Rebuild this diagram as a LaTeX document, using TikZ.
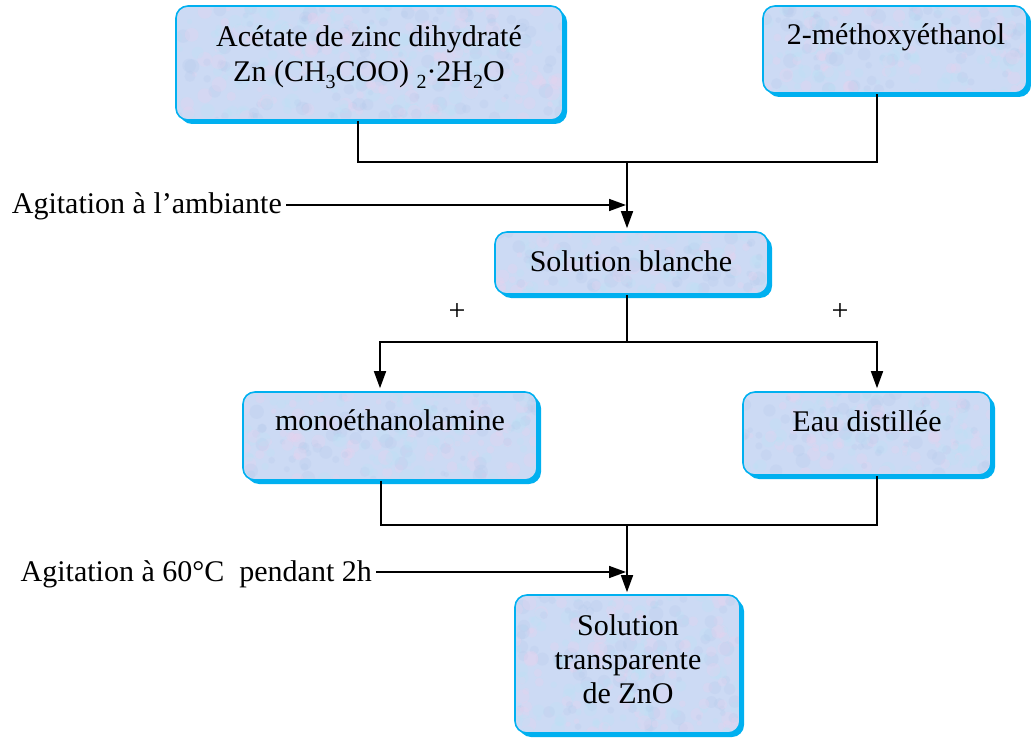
\documentclass[tikz,border=0pt]{standalone}
\usepackage{fontspec}
\setmainfont{Liberation Serif}
\usetikzlibrary{arrows.meta,shadows}

\definecolor{boxblue}{RGB}{0,176,240}
\definecolor{boxfill}{RGB}{204,218,244}
\definecolor{mottlepink}{RGB}{232,210,238}
\definecolor{mottlecyan}{RGB}{188,226,246}
\definecolor{mottleblue}{RGB}{182,202,236}

% chemical subscript in the running text font
\newcommand\chsub[1]{\raisebox{-0.22em}{\fontsize{20}{20}\selectfont #1}}

% fine marbled grain inside a stage box given by its corners
\newcommand\mottle[4]{%
  \begin{scope}
    \clip[rounded corners=11pt] (#1+1.5,#2+1.5) rectangle (#3-1.5,#4-1.5);
    \pgfmathtruncatemacro\nblobs{((#3-#1)/11)*((#4-#2)/10)}
    \foreach \k in {1,...,\nblobs} {
      \pgfmathsetmacro\px{#1+rnd*(#3-#1)}
      \pgfmathsetmacro\py{#2+rnd*(#4-#2)}
      \pgfmathsetmacro\pr{2.5+rnd*5}
      \pgfmathtruncatemacro\pc{mod(\k,3)}
      \ifcase\pc
        \fill[mottlepink, opacity=0.3] (\px,\py) circle (\pr);
      \or
        \fill[mottlecyan, opacity=0.3] (\px,\py) circle (\pr);
      \else
        \fill[mottleblue, opacity=0.25] (\px,\py) circle (\pr);
      \fi
    }
  \end{scope}}

\tikzset{
  stage/.style={draw=boxblue, line width=1.6pt, fill=boxfill,
    rounded corners=12pt, inner sep=0pt,
    drop shadow={shadow xshift=4pt, shadow yshift=-4pt, fill=boxblue, opacity=1}},
  label/.style={font=\fontsize{30}{35}\selectfont, inner sep=0pt, anchor=base},
  link/.style={line width=1.6pt, black},
  flow/.style={link, -{Triangle[length=17pt,width=12pt]}},
}

\begin{document}
\begin{tikzpicture}[x=1pt,y=-1pt]
\useasboundingbox (0,0) rectangle (1031,738);
\pgfmathsetseed{4217}

% process stages
\node[stage, minimum width=387pt, minimum height=114pt] (b1) at (369.5,63) {};
\node[stage, minimum width=264pt, minimum height=87pt]  (b2) at (895,49.5) {};
\node[stage, minimum width=273pt, minimum height=62pt]  (b3) at (631.5,263) {};
\node[stage, minimum width=294pt, minimum height=88pt]  (b4) at (390,436) {};
\node[stage, minimum width=248pt, minimum height=83pt]  (b5) at (867,433.5) {};
\node[stage, minimum width=225pt, minimum height=138pt] (b6) at (627.5,664) {};

\mottle{176}{6}{563}{120}
\mottle{763}{6}{1027}{93}
\mottle{495}{232}{768}{294}
\mottle{243}{392}{537}{480}
\mottle{743}{392}{991}{475}
\mottle{515}{595}{740}{733}

% stage texts
\node[label] (t1a) at (369,47) {Acétate de zinc dihydraté};
\node[label] (t1b) at (369,82) {Zn (CH\chsub{3}COO) \chsub{2}·2H\chsub{2}O};
\node[label] (t2)  at (896,45) {2-méthoxyéthanol};
\node[label] (t3)  at (631,272) {Solution blanche};
\node[label] (t4)  at (390,430) {monoéthanolamine};
\node[label] (t5)  at (867,431) {Eau distillée};
\node[label] (t6a) at (628,635) {Solution};
\node[label] (t6b) at (628,669) {transparente};
\node[label] (t6c) at (628,703) {de ZnO};

% process conditions
\node[label, anchor=base east] (ag1) at (282,214) {Agitation à l’ambiante};
\node[label, anchor=base east] (ag2) at (372,581) {Agitation à 60°C\ \ pendant 2h};
\node[label] (p1) at (457,320) {+};
\node[label] (p2) at (840,320) {+};

% junction points
\coordinate (j1L) at (358,162);
\coordinate (j1R) at (877,162);
\coordinate (j1)  at (627,162);
\coordinate (a1)  at (626,205);
\coordinate (j2)  at (627,342);
\coordinate (j2L) at (380,342);
\coordinate (j2R) at (877,342);
\coordinate (j3L) at (381,525);
\coordinate (j3R) at (877,525);
\coordinate (j3)  at (627,525);
\coordinate (a2)  at (626,572);

% mixing of the precursors
\draw[link] (b1.south -| j1L) -- (j1L) -- (j1R) -- (b2.south -| j1R);
\draw[flow, shorten >=3pt] (j1) -- (b3.north -| j1);
\draw[flow, shorten <=4pt] (ag1.east |- a1) -- (a1);

% additions
\draw[link] (b3.south -| j2) -- (j2);
\draw[flow, shorten >=3pt] (j2) -- (j2L) -- (b4.north -| j2L);
\draw[flow, shorten >=3pt] (j2) -- (j2R) -- (b5.north -| j2R);

% final solution
\draw[link] (b4.south -| j3L) -- (j3L) -- (j3R) -- (b5.south -| j3R);
\draw[flow, shorten >=2pt] (j3) -- (b6.north -| j3);
\draw[flow, shorten <=4pt] (ag2.east |- a2) -- (a2);
\end{tikzpicture}
\end{document}
